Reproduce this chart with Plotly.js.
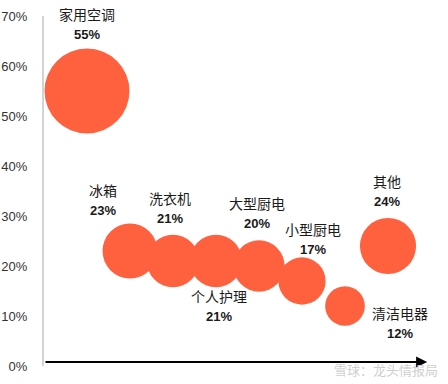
<!DOCTYPE html>
<html>
<head>
<meta charset="utf-8">
<script src="https://cdn.plot.ly/plotly-3.0.1.min.js"></script>
<style>html,body{margin:0;padding:0;background:#fff;}#chart{width:448px;height:384px;}</style>
</head>
<body>
<div id="chart"></div>
<script>
// Data
const categories = ["家用空调", "冰箱", "洗衣机", "个人护理", "大型厨电", "小型厨电", "清洁电器", "其他"];
const positions = [1, 2, 3, 4, 5, 6, 7, 8];
const shares = [55, 23, 21, 21, 20, 17, 12, 24];
const yTickValues = [0, 10, 20, 30, 40, 50, 60, 70];
const yTickLabels = ["0%", "10%", "20%", "30%", "40%", "50%", "60%", "70%"];

// Label placement (pixel offsets from bubble centre: [dx, name dy])
const labelOffsets = [[0, 77], [-27, 61], [-3, 63], [3, -35], [-2, 63], [11, 52], [55, -7], [-1, 65]];

const maxDiameter = 85;
const trace = {
  type: 'scatter',
  mode: 'markers',
  x: positions,
  y: shares,
  marker: {
    size: shares,
    sizemode: 'area',
    sizeref: 2 * Math.max(...shares) / (maxDiameter * maxDiameter),
    color: '#FF613E',
    opacity: 1,
    line: {width: 0}
  },
  hoverinfo: 'none',
  cliponaxis: false
};

const annotations = [];
categories.forEach((c, i) => {
  const [dx, dy] = labelOffsets[i];
  annotations.push({
    x: positions[i], y: shares[i], xref: 'x', yref: 'y',
    text: c, showarrow: false, xshift: dx, yshift: dy,
    font: {family: 'Noto Sans CJK SC', size: 14, color: '#1a1a1a'},
    xanchor: 'center', yanchor: 'middle'
  });
  annotations.push({
    x: positions[i], y: shares[i], xref: 'x', yref: 'y',
    text: '<b>' + shares[i] + '%</b>', showarrow: false, xshift: dx, yshift: dy - 20,
    font: {family: 'Liberation Sans', size: 13, color: '#1a1a1a'},
    xanchor: 'center', yanchor: 'middle'
  });
});

// x-axis arrow
annotations.push({
  x: 0.99, y: 0.0114, xref: 'paper', yref: 'paper',
  ax: 0, ay: 0.0114, axref: 'paper', ayref: 'paper',
  text: '', showarrow: true, arrowhead: 2, arrowsize: 1, arrowwidth: 2.2, arrowcolor: '#000'
});
// watermark
annotations.push({
  x: 0.885, y: -0.01, xref: 'paper', yref: 'paper',
  text: '雪球：龙头情报局', showarrow: false,
  font: {family: 'Noto Sans CJK SC', size: 13, color: '#cfcfcf'},
  xanchor: 'center', yanchor: 'middle'
});

const layout = {
  width: 448, height: 384,
  margin: {l: 44, r: 17, t: 16, b: 18},
  paper_bgcolor: '#fff', plot_bgcolor: '#fff',
  showlegend: false,
  xaxis: {range: [0, 9], showgrid: false, zeroline: false, showline: false, showticklabels: false, ticks: ''},
  yaxis: {
    range: [0, 70], tickvals: yTickValues, ticktext: yTickLabels,
    showgrid: false, zeroline: false, showline: true, linecolor: '#d4d4d4', linewidth: 2,
    ticks: '', ticklabelstandoff: 12,
    tickfont: {family: 'Liberation Sans', size: 13, color: '#333'}
  },
  annotations: annotations
};

Plotly.newPlot('chart', [trace], layout, {staticPlot: true, displayModeBar: false});
</script>
</body>
</html>
